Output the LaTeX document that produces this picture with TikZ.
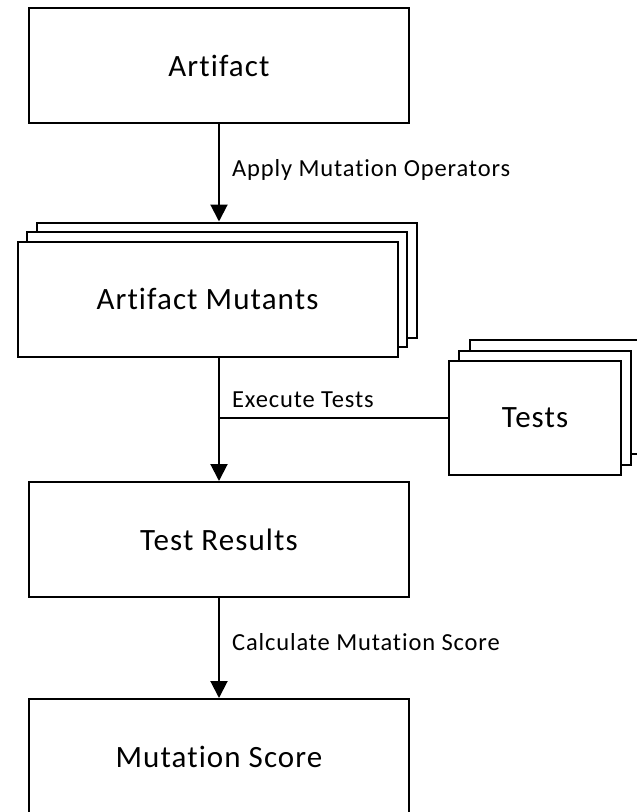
\documentclass[tikz,border=0pt]{standalone}
\usepackage{fontspec}
\setmainfont{Carlito}[Ligatures=NoCommon,LetterSpace=3.5]
\usetikzlibrary{arrows.meta}

\begin{document}
\begin{tikzpicture}[x=1pt,y=-1pt,
  box/.style={draw, line width=2pt, fill=white, inner sep=0pt,
    minimum width=380pt, minimum height=115pt, font=\fontsize{31}{36}\selectfont},
  smallbox/.style={box, minimum width=172pt, minimum height=114pt},
  lbl/.style={anchor=west, inner sep=0pt, font=\fontsize{24.5}{29}\selectfont},
  flow/.style={line width=2pt, -{Triangle[length=17pt,width=17pt]}}]
\clip (0,0) rectangle (637,812);

\node[box] (art) at (219,65.5) {Artifact};

% stack of mutants, back to front
\node[box] (mutC) at (226.5,280) {};
\node[box] (mutB) at (217,289.5) {};
\node[box] (mutA) at (207.5,299) {Artifact Mutants};

% stack of tests, back to front
\node[smallbox] (testsC) at (556,397) {};
\node[smallbox] (testsB) at (545,408) {};
\node[smallbox] (tests) at (535,418) {Tests};

\node[box] (res) at (219,539.5) {Test Results};
\node[box] (score) at (219,756.5) {Mutation Score};

\path[draw,flow] (art.south) -- (art.south |- mutC.north);
\path[draw,flow] (mutA.south -| res.north) -- (res.north);
\coordinate (join) at (res.north |- tests.west);
\path[draw,line width=2pt] (tests.west) -- (join);
\path[draw,flow] (res.south) -- (score.north);

\node[lbl] (applylbl) at (232,170) {Apply Mutation Operators};
\node[lbl] (execlbl) at (232,400) {Execute Tests};
\node[lbl] (calclbl) at (232,642) {Calculate Mutation Score};
\end{tikzpicture}
\end{document}
